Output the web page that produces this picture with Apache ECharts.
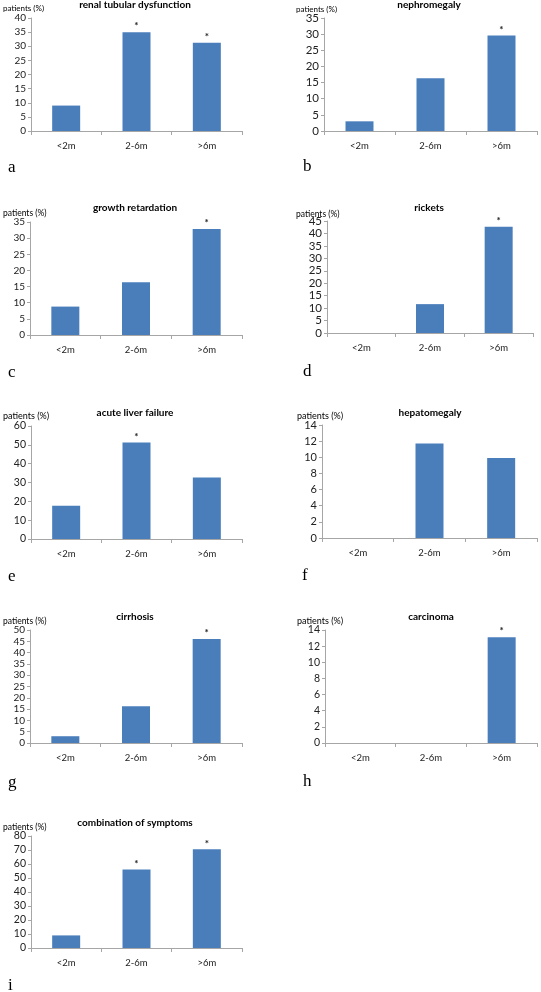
<!DOCTYPE html>
<html>
<head>
<meta charset="utf-8">
<script src="https://cdn.jsdelivr.net/npm/echarts@6/dist/echarts.min.js"></script>
<style>
html,body{margin:0;padding:0;background:#fff;}
#chart{width:541px;height:992px;}
</style>
</head>
<body>
<div id="chart"></div>
<script>
// ---- data ----
const categories = ['<2m', '2-6m', '>6m'];
const panelTitles = ['renal tubular dysfunction', 'nephromegaly', 'growth retardation', 'rickets',
  'acute liver failure', 'hepatomegaly', 'cirrhosis', 'carcinoma', 'combination of symptoms'];
const panelLetters = ['a', 'b', 'c', 'd', 'e', 'f', 'g', 'h', 'i'];
const yAxisLabel = 'patients (%)';

const renalTubular = [9, 35, 31.2];
const nephromegaly = [3, 16.3, 29.6];
const growthRetardation = [8.8, 16.3, 32.8];
const rickets = [0, 11.6, 42.7];
const acuteLiverFailure = [17.6, 51.3, 32.7];
const hepatomegaly = [0, 11.7, 9.9];
const cirrhosis = [3, 16.3, 46];
const carcinoma = [0, 0, 13.1];
const combination = [9, 56, 70.5];

// significance markers (*)
const sigRenal = [0, 1, 1];
const sigNephro = [0, 0, 1];
const sigGrowth = [0, 0, 1];
const sigRickets = [0, 0, 1];
const sigLiver = [0, 1, 0];
const sigHepato = [0, 0, 0];
const sigCirrh = [0, 0, 1];
const sigCarc = [0, 0, 1];
const sigComb = [0, 1, 1];

// y-axis ticks (max, interval)
const yMax = [40, 35, 35, 45, 60, 14, 50, 14, 80];
const yInterval = [5, 5, 5, 5, 10, 2, 5, 2, 10];

const seriesValues = [renalTubular, nephromegaly, growthRetardation, rickets,
  acuteLiverFailure, hepatomegaly, cirrhosis, carcinoma, combination];
const seriesSig = [sigRenal, sigNephro, sigGrowth, sigRickets, sigLiver, sigHepato, sigCirrh, sigCarc, sigComb];

// ---- layout (pixels) ----
const gridBoxes = [
  {l: 31, r: 242, t: 18, b: 131},
  {l: 324, r: 537, t: 18, b: 131},
  {l: 30, r: 242, t: 222, b: 335},
  {l: 327, r: 533, t: 221, b: 333},
  {l: 31, r: 242, t: 426, b: 539},
  {l: 322, r: 537, t: 425, b: 538},
  {l: 30, r: 242, t: 630, b: 743},
  {l: 325, r: 537, t: 630, b: 743},
  {l: 31, r: 242, t: 836, b: 948}
];
const tickFont = [10, 11.5, 10, 11.5, 10.5, 11, 10, 10.5, 10.5];
const ylabFont = [8, 8, 8.5, 8.5, 9, 9, 8.5, 9, 8.5];
const titlePos = [[135, 5], [429, 5], [135, 208], [429, 208], [135, 413], [430, 413], [135, 617], [431, 617], [135, 823]];
const ylabPos = [[3, 8], [296, 9], [3, 213], [296, 214], [3, 416], [297, 416], [3, 621], [297, 621], [3, 827]];
const letterPos = [[8, 168], [303, 167], [8, 373], [303, 372], [8, 577], [302, 576], [8, 783], [303, 782], [8, 986]];

const FONT = 'Lato, "Open Sans", sans-serif';
const grids = [], xAxes = [], yAxes = [], series = [], graphics = [];

for (let i = 0; i < 9; i++) {
  const g = gridBoxes[i];
  grids.push({left: g.l, top: g.t, width: g.r - g.l, height: g.b - g.t, containLabel: false});
  xAxes.push({
    type: 'category', gridIndex: i, data: categories,
    axisLine: {show: true, lineStyle: {color: '#a6a6a6', width: 1}},
    axisTick: {show: true, length: 4, lineStyle: {color: '#a6a6a6'}},
    axisLabel: {color: '#222', fontFamily: FONT, fontSize: 9.5, margin: 10},
    splitLine: {show: false}
  });
  yAxes.push({
    type: 'value', gridIndex: i, min: 0, max: yMax[i], interval: yInterval[i],
    axisLine: {show: true, lineStyle: {color: '#a6a6a6', width: 1}},
    axisTick: {show: true, length: 3, lineStyle: {color: '#a6a6a6'}},
    axisLabel: {color: '#222', fontFamily: FONT, fontSize: tickFont[i], margin: 5},
    splitLine: {show: false}
  });
  const sig = seriesSig[i];
  series.push({
    type: 'bar', xAxisIndex: i, yAxisIndex: i,
    data: seriesValues[i],
    barWidth: 28,
    itemStyle: {color: '#4a7ebb'},
    label: {
      show: true, position: 'top', distance: 1,
      fontFamily: FONT, fontSize: 10, color: '#222', fontWeight: 'bold',
      formatter: p => (sig[p.dataIndex] ? '*' : '')
    },
    animation: false
  });
  graphics.push({
    type: 'text', x: titlePos[i][0], y: titlePos[i][1],
    style: {text: panelTitles[i], fontFamily: FONT, fontSize: 10, fontWeight: 'bold', fill: '#000',
      align: 'center', verticalAlign: 'middle'}
  });
  graphics.push({
    type: 'text', x: ylabPos[i][0], y: ylabPos[i][1],
    style: {text: yAxisLabel, fontFamily: FONT, fontSize: ylabFont[i], fill: '#000', align: 'left', verticalAlign: 'middle'}
  });
  graphics.push({
    type: 'text', x: letterPos[i][0], y: letterPos[i][1],
    style: {text: panelLetters[i], fontFamily: '"Liberation Serif", "DejaVu Serif", serif', fontSize: 17, fill: '#000',
      align: 'left', verticalAlign: 'middle'}
  });
}

const chart = echarts.init(document.getElementById('chart'), null, {renderer: 'canvas'});
chart.setOption({
  backgroundColor: '#fff',
  animation: false,
  grid: grids, xAxis: xAxes, yAxis: yAxes, series: series,
  graphic: graphics
});
</script>
</body>
</html>
